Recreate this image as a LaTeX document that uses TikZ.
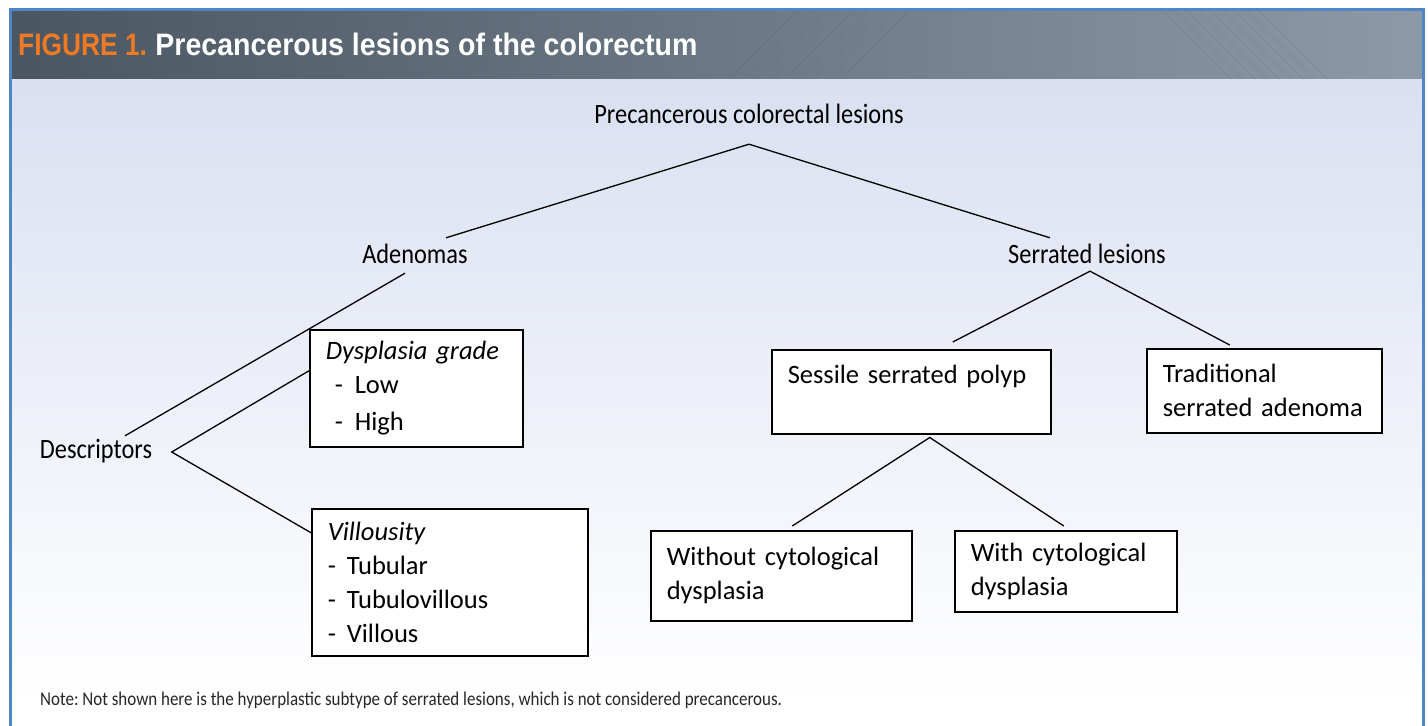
\documentclass[tikz,border=0pt]{standalone}
\usepackage{fontspec}
\setmainfont{Carlito}
\newfontfamily\condfont[FakeStretch=0.87]{Carlito}
\newfontfamily\headfont[FakeStretch=0.85]{Liberation Sans}
\newfontfamily\headwide[FakeStretch=0.92]{Liberation Sans}
\usetikzlibrary{positioning, calc}
\definecolor{frameblue}{HTML}{4F86C6}
\definecolor{headdark}{HTML}{4A5661}
\definecolor{headlight}{HTML}{8C99A8}
\definecolor{figorange}{HTML}{F07A24}
\definecolor{bodytop}{HTML}{DAE0F1}

\begin{document}
\frenchspacing
\begin{tikzpicture}[
    x=1pt, y=-1pt,
    lbl/.style={font=\condfont\fontsize{28}{28}\selectfont, inner sep=0pt, text height=19pt, text depth=6pt},
    lbox/.style={draw=black, line width=1.5pt, fill=white, inner xsep=16pt, inner ysep=0pt, align=left, anchor=north west, font=\fontsize{26.5}{34}\selectfont},
    link/.style={line width=1.3pt},
    stripe/.style={draw=black!70, opacity=0.1, line width=1pt},
]
\useasboundingbox (0,0) rectangle (1428,726);

% background and header
\shade[top color=bodytop, bottom color=white] (10,78) rectangle (1423,700);
\fill[white] (10,700) rectangle (1423,726);
\shade[left color=headdark, right color=headlight] (10,8) rectangle (1423,78);
\begin{scope}
  \clip (10,8) rectangle (1423,78);
  \foreach \i in {0,...,8} {
    \draw[stripe] (\i*9+10,78) -- ++(75,-75);
    \draw[stripe] (\i*14+730,78) -- ++(75,-75);
    \draw[stripe] (\i*12+1160,8) -- ++(75,75);
  }
\end{scope}
\draw[frameblue, line width=3pt] (10,726) -- (10,9) -- (1423,9) -- (1423,726);

\node[anchor=base west, inner sep=0pt, text=figorange, font=\headfont\bfseries\fontsize{31}{31}\selectfont] (fignum) at (18,55) {FIGURE 1.};
\node[anchor=base west, inner sep=0pt, text=white, font=\headwide\bfseries\fontsize{31}{31}\selectfont] (figtitle) at ([xshift=8pt]fignum.base east) {Precancerous lesions of the colorectum};

% tree labels
\node[lbl] (prec) at (749,117) {Precancerous colorectal lesions};
\node[lbl] (aden) at (415,257) {Adenomas};
\node[lbl] (serr) at (1087,257) {Serrated lesions};
\node[lbl] (desc) at (96,452) {Descriptors};

% boxes
\node[lbox, text width=181pt, minimum height=117pt] (dysp) at (309,329)
  {\textit{Dysplasia grade}\\ \hspace{9pt}-\hspace{12pt}Low\\[3pt] \hspace{9pt}-\hspace{12pt}High};
\node[lbox, text width=244pt, minimum height=147pt] (villo) at (311,508)
  {\textit{Villousity}\\ -\hspace{11pt}Tubular\\ -\hspace{11pt}Tubulovillous\\ -\hspace{11pt}Villous};
\node[lbox, text width=247pt, minimum height=84pt] (sess) at (771,349)
  {Sessile serrated polyp\\ \mbox{}};
\node[lbox, text width=203pt, minimum height=84pt] (trad) at (1146,348)
  {Traditional\\serrated adenoma};
\node[lbox, text width=229pt, minimum height=90pt] (nocyto) at (650,530)
  {Without cytological\\dysplasia\\[4pt]};
\node[lbox, text width=190pt, minimum height=81pt] (cyto) at (954,530)
  {With cytological\\dysplasia};

% connectors
\draw[link] ([xshift=31pt,yshift=6.5pt]aden.north) -- ([yshift=-14.5pt]prec.south) -- ([xshift=-37pt,yshift=6.5pt]serr.north);
\draw[link] ([xshift=-10pt,yshift=-3.5pt]aden.south) -- ([xshift=29pt,yshift=3.5pt]desc.north);
\draw[link] ([yshift=17.5pt]dysp.west) -- ([xshift=19.5pt]desc.east) -- ([yshift=49.5pt]villo.west);
\draw[link] ([xshift=41.5pt,yshift=7pt]sess.north) -- ([xshift=3pt,yshift=-1.5pt]serr.south) -- ([xshift=-34.5pt,yshift=3pt]trad.north);
\draw[link] ([xshift=11pt,yshift=4pt]nocyto.north) -- ([xshift=18.5pt,yshift=-3pt]sess.south) -- ([xshift=-2pt,yshift=4pt]cyto.north);

\node[anchor=west, inner sep=0pt, text=black!85, font=\condfont\fontsize{19.5}{19.5}\selectfont] (note) at (40,700)
  {Note: Not shown here is the hyperplastic subtype of serrated lesions, which is not considered precancerous.};
\end{tikzpicture}
\end{document}
